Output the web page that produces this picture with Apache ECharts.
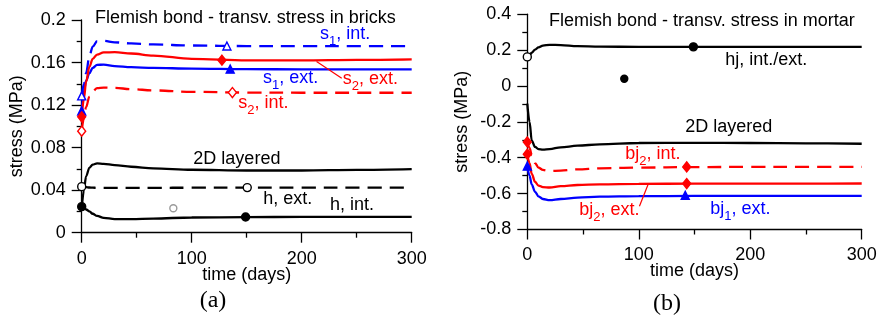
<!DOCTYPE html>
<html>
<head>
<meta charset="utf-8">
<script src="https://cdn.jsdelivr.net/npm/echarts@6/dist/echarts.min.js"></script>
<style>
  html, body { margin: 0; padding: 0; background: #fff; }
  #chart { width: 880px; height: 320px; }
</style>
</head>
<body>
<div id="chart"></div>
<script>
// Sampling days shared by every curve
const days = [0, 2, 4, 7, 10, 14, 20, 30, 45, 65, 100, 150, 200, 250, 300];

// (a) transverse stress in bricks (MPa)
const s1Int   = [0.1287, 0.140, 0.150, 0.166, 0.175, 0.1800, 0.1805, 0.1790, 0.1780, 0.1770, 0.1760, 0.1755, 0.1755, 0.1755, 0.1755];
const s1Ext   = [0.1145, 0.133, 0.143, 0.150, 0.155, 0.1578, 0.1580, 0.1566, 0.1556, 0.1550, 0.1543, 0.1538, 0.1536, 0.1535, 0.1535];
const s2Ext   = [0.1090, 0.126, 0.142, 0.156, 0.1635, 0.1675, 0.1695, 0.1697, 0.1685, 0.1665, 0.1635, 0.1620, 0.1620, 0.1625, 0.1630];
const s2Int   = [0.0955, 0.108, 0.118, 0.128, 0.133, 0.1360, 0.1365, 0.1362, 0.1350, 0.1338, 0.1325, 0.1318, 0.1316, 0.1316, 0.1316];
const layerA  = [0.0220, 0.040, 0.053, 0.061, 0.064, 0.0652, 0.0648, 0.0635, 0.0620, 0.0605, 0.0592, 0.0585, 0.0585, 0.0590, 0.0597];
const hExt    = [0.0433, 0.0430, 0.0428, 0.0425, 0.0423, 0.0422, 0.0421, 0.0421, 0.0421, 0.0422, 0.0423, 0.0424, 0.0424, 0.0424, 0.0424];
const hInt    = [0.0245, 0.0232, 0.0218, 0.0200, 0.0178, 0.0158, 0.0140, 0.0128, 0.0127, 0.0133, 0.0143, 0.0147, 0.0148, 0.0148, 0.0148];

// (b) transverse stress in mortar (MPa)
const hj      = [0.162, 0.172, 0.185, 0.203, 0.215, 0.225, 0.229, 0.228, 0.222, 0.219, 0.218, 0.218, 0.218, 0.218, 0.218];
const layerB  = [-0.098, -0.200, -0.305, -0.340, -0.352, -0.355, -0.352, -0.342, -0.333, -0.325, -0.318, -0.317, -0.318, -0.320, -0.322];
const bj2Int  = [-0.312, -0.345, -0.385, -0.430, -0.455, -0.468, -0.474, -0.472, -0.465, -0.459, -0.455, -0.452, -0.451, -0.451, -0.451];
const bj2Ext  = [-0.380, -0.430, -0.490, -0.535, -0.555, -0.564, -0.566, -0.558, -0.552, -0.548, -0.546, -0.544, -0.544, -0.544, -0.5435];
const bj1Ext  = [-0.447, -0.500, -0.550, -0.590, -0.615, -0.630, -0.636, -0.630, -0.622, -0.617, -0.614, -0.613, -0.613, -0.613, -0.613];

// Marker points [day, stress]
const s1IntMarks  = [[0, 0.1287], [132, 0.1755]];
const s1ExtMarks  = [[0, 0.1145], [135, 0.1538]];
const s2ExtMarks  = [[0, 0.1090], [127.5, 0.1622]];
const s2IntMarks  = [[0, 0.0955], [137, 0.1318]];
const hExtMarks   = [[0, 0.0433], [150.5, 0.0424]];
const hIntMarks   = [[0, 0.0245], [149, 0.0148]];
const strayA      = [[83.3, 0.023]];
const hjOpenMarks = [[0, 0.162]];
const hjMarks     = [[149, 0.218]];
const strayB      = [[87, 0.040]];
const bj2IntMarks = [[0, -0.312], [143, -0.451]];
const bj2ExtMarks = [[0, -0.380], [143, -0.544]];
const bj1ExtMarks = [[0, -0.447], [141.7, -0.610]];

// Axis ranges and tick steps
const xRange = [0, 300, 100];
const yRangeA = [0, 0.2, 0.04];
const yRangeB = [-0.8, 0.4, 0.2];

const BLUE = '#0000ff', RED = '#ff0000', BLACK = '#000000', GREY = '#9a9a9a';
const SANS = '"Liberation Sans", Arial, Helvetica, sans-serif';
const SERIF = '"Liberation Serif", "Times New Roman", serif';
const DASH = [14, 8];

const pts = vals => days.map((d, i) => [d, vals[i]]);

function curve(vals, color, dashed, g) {
  return {
    type: 'line', xAxisIndex: g, yAxisIndex: g, data: pts(vals),
    smooth: 0.35, smoothMonotone: 'x', showSymbol: false, silent: true, z: 2,
    lineStyle: { color, width: 2.3, type: dashed ? DASH : 'solid' }
  };
}
function marks(data, color, symbol, filled, g, size) {
  return {
    type: 'scatter', xAxisIndex: g, yAxisIndex: g, data, symbol, symbolSize: size, silent: true, z: 4,
    itemStyle: { color: filled ? color : '#ffffff', borderColor: color, borderWidth: 1.4, opacity: 1 }
  };
}

function xAxisOf(g) {
  return {
    type: 'value', gridIndex: g, min: xRange[0], max: xRange[1], interval: xRange[2],
    name: 'time (days)', nameLocation: 'middle', nameGap: 33, nameMoveOverlap: false,
    nameTextStyle: { color: BLACK, fontSize: 18, fontFamily: SANS },
    axisLine: { onZero: false, lineStyle: { color: BLACK, width: 1.3 } },
    axisTick: { length: 10, lineStyle: { color: BLACK, width: 1.3 } },
    minorTick: { show: true, splitNumber: 2, length: 5, lineStyle: { color: BLACK, width: 1.3 } },
    splitLine: { show: false },
    axisLabel: { color: BLACK, fontSize: 18, fontFamily: SANS, margin: 17 }
  };
}
function yAxisOf(g, r) {
  return {
    type: 'value', gridIndex: g, min: r[0], max: r[1], interval: r[2],
    name: 'stress (MPa)', nameLocation: 'middle', nameGap: 56, nameRotate: 90, nameMoveOverlap: false,
    nameTextStyle: { color: BLACK, fontSize: 18, fontFamily: SANS },
    axisLine: { onZero: false, lineStyle: { color: BLACK, width: 1.3 } },
    axisTick: { length: 10, lineStyle: { color: BLACK, width: 1.3 } },
    minorTick: { show: true, splitNumber: 2, length: 5, lineStyle: { color: BLACK, width: 1.3 } },
    splitLine: { show: false },
    axisLabel: { color: BLACK, fontSize: 18, fontFamily: SANS, margin: 16 }
  };
}

const chart = echarts.init(document.getElementById('chart'), null, { renderer: 'canvas' });
chart.setOption({
  animation: false,
  backgroundColor: '#ffffff',
  grid: [
    { left: 81.7, top: 20, width: 330, height: 212.7 },
    { left: 527.3, top: 14.2, width: 334.4, height: 215.3 }
  ],
  xAxis: [xAxisOf(0), xAxisOf(1)],
  yAxis: [yAxisOf(0, yRangeA), yAxisOf(1, yRangeB)],
  series: [
    curve(s1Int, BLUE, true, 0),
    curve(s1Ext, BLUE, false, 0),
    curve(s2Ext, RED, false, 0),
    curve(s2Int, RED, true, 0),
    curve(layerA, BLACK, false, 0),
    curve(hExt, BLACK, true, 0),
    curve(hInt, BLACK, false, 0),
    marks(s1IntMarks, BLUE, 'triangle', false, 0, 8),
    marks(s1ExtMarks, BLUE, 'triangle', true, 0, 8),
    marks(s2ExtMarks, RED, 'diamond', true, 0, [8, 10]),
    marks(s2IntMarks, RED, 'diamond', false, 0, [8, 10]),
    marks(hExtMarks, BLACK, 'circle', false, 0, 8),
    marks(hIntMarks, BLACK, 'circle', true, 0, 8),
    marks(strayA, GREY, 'circle', false, 0, 7),

    curve(hj, BLACK, false, 1),
    curve(layerB, BLACK, false, 1),
    curve(bj2Int, RED, true, 1),
    curve(bj2Ext, RED, false, 1),
    curve(bj1Ext, BLUE, false, 1),
    marks(hjOpenMarks, BLACK, 'circle', false, 1, 8),
    marks(hjMarks, BLACK, 'circle', true, 1, 8),
    marks(strayB, BLACK, 'circle', true, 1, 7),
    marks(bj2IntMarks, RED, 'diamond', true, 1, [8, 10]),
    marks(bj2ExtMarks, RED, 'diamond', true, 1, [8, 10]),
    marks(bj1ExtMarks, BLUE, 'triangle', true, 1, 8)
  ]
});

// In-plot annotations, anchored at [day, stress] (left edge, vertical middle)
const notes = [
  { g: 0, at: [12.1, 0.2011], text: '{n|Flemish bond - transv. stress in bricks}', color: BLACK },
  { g: 0, at: [216.6, 0.186], text: '{n|s}{b|1}{n|, int.}', color: BLUE },
  { g: 0, at: [164.8, 0.1447], text: '{n|s}{b|1}{n|, ext.}', color: BLUE },
  { g: 0, at: [237.3, 0.1437], text: '{n|s}{b|2}{n|, ext.}', color: RED },
  { g: 0, at: [142.4, 0.1211], text: '{n|s}{b|2}{n|, int.}', color: RED },
  { g: 0, at: [101.5, 0.0684], text: '{n|2D layered}', color: BLACK },
  { g: 0, at: [165.1, 0.0308], text: '{n|h, ext.}', color: BLACK },
  { g: 0, at: [225.7, 0.0251], text: '{n|h, int.}', color: BLACK },
  { g: 1, at: [19.5, 0.357], text: '{n|Flemish bond - transv. stress in mortar}', color: BLACK },
  { g: 1, at: [177.6, 0.138], text: '{n|hj, int./ext.}', color: BLACK },
  { g: 1, at: [141.7, -0.2336], text: '{n|2D layered}', color: BLACK },
  { g: 1, at: [87.8, -0.3857], text: '{n|bj}{b|2}{n|, int.}', color: RED },
  { g: 1, at: [46.7, -0.696], text: '{n|bj}{b|2}{n|, ext.}', color: RED },
  { g: 1, at: [164.1, -0.692], text: '{n|bj}{b|1}{n|, ext.}', color: BLUE }
];
// Leader lines tying a label to its curve
const leaders = [
  { g: 0, from: [213.5, 0.161], to: [236.4, 0.1453], color: RED },
  { g: 1, from: [108.7, -0.5435], to: [100.6, -0.67], color: RED }
];

function draw() {
  const px = (g, p) => chart.convertToPixel({ gridIndex: g }, p);
  const els = [];
  notes.forEach(n => {
    const p = px(n.g, n.at);
    els.push({
      type: 'text', x: p[0], y: p[1], silent: true, z: 10,
      style: {
        text: n.text, fill: n.color, align: 'left', verticalAlign: 'middle',
        rich: {
          n: { fontSize: 18, fontFamily: SANS, fill: n.color, lineHeight: 20, verticalAlign: 'top' },
          b: { fontSize: 13, fontFamily: SANS, fill: n.color, lineHeight: 14, padding: [10, 0, 0, 0], verticalAlign: 'top' }
        }
      }
    });
  });
  leaders.forEach(l => {
    const a = px(l.g, l.from), b = px(l.g, l.to);
    els.push({ type: 'line', silent: true, z: 10, shape: { x1: a[0], y1: a[1], x2: b[0], y2: b[1] },
      style: { stroke: l.color, lineWidth: 1.2 } });
  });
  els.push({ type: 'text', x: 213, y: 301, silent: true,
    style: { text: '(a)', fill: BLACK, font: '24px ' + SERIF, align: 'center', verticalAlign: 'middle' } });
  els.push({ type: 'text', x: 667, y: 304, silent: true,
    style: { text: '(b)', fill: BLACK, font: '24px ' + SERIF, align: 'center', verticalAlign: 'middle' } });
  chart.setOption({ graphic: els });
}
draw();
</script>
</body>
</html>
